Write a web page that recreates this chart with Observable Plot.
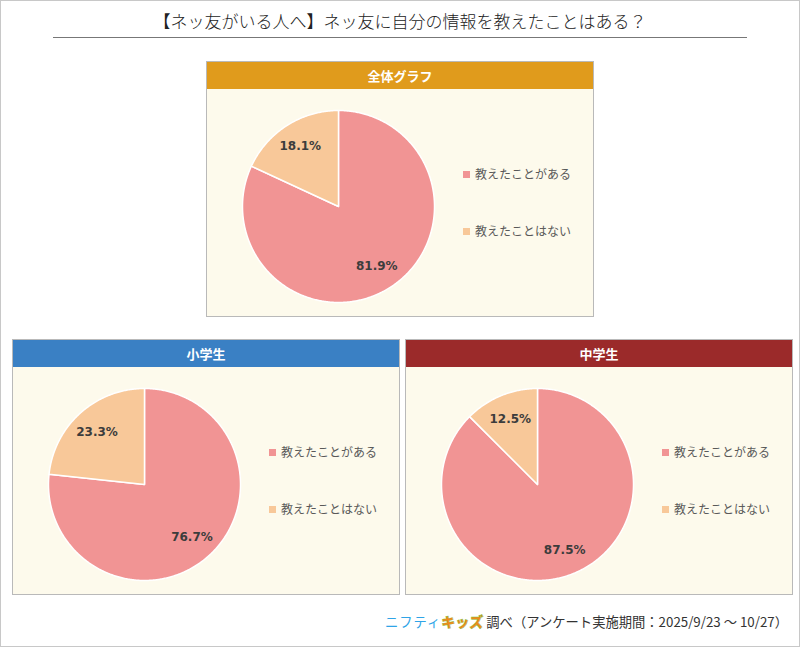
<!DOCTYPE html>
<html><head><meta charset="utf-8">
<script src="https://cdn.jsdelivr.net/npm/d3@7"></script>
<script src="https://cdn.jsdelivr.net/npm/@observablehq/plot@0.6"></script>
<style>
html,body{margin:0;padding:0;background:#fff;}
#page{position:relative;width:798px;height:645px;border:1px solid #c8c8c8;font-family:"Noto Sans CJK JP","Noto Sans",sans-serif;overflow:hidden;}
#title{position:absolute;left:0;top:7px;width:798px;text-align:center;font-size:17px;color:#222;font-weight:300;}
#rule{position:absolute;left:52px;top:36px;width:694px;height:1px;background:#777;}
.panel{position:absolute;border:1px solid #b9b9b9;background:#fdfaec;}
.head{height:27px;line-height:27px;text-align:center;color:#fff;font-weight:bold;font-size:13px;}
.legend{position:absolute;font-size:12px;color:#595959;}
.legend .item{position:absolute;white-space:nowrap;}
.legend .sw{display:inline-block;width:7px;height:7px;margin-right:5px;vertical-align:1px;}
#caption{position:absolute;right:11px;top:610px;font-size:13.3px;color:#333;white-space:nowrap;}
.nf{color:#2fa4e7;font-weight:normal;letter-spacing:1px;}
.kz{color:#f08a1c;font-weight:900;-webkit-text-stroke:0.4px #7cbf3a;margin-right:3px;font-size:14px;}
</style></head>
<body>
<div id="page">
  <div id="title"></div>
  <div id="rule"></div>
  <div id="caption"><span class="nf">ニフティ</span><span class="kz">キッズ</span>調べ（アンケート実施期間：2025/9/23 ～ 10/27）</div>
</div>
<script>
const titleText = "【ネッ友がいる人へ】ネッ友に自分の情報を教えたことはある？";
const categories = ["教えたことがある", "教えたことはない"];
const panelTitles = ["全体グラフ", "小学生", "中学生"];
const valuesAll = [81.9, 18.1];
const valuesElementary = [76.7, 23.3];
const valuesJunior = [87.5, 12.5];

const sliceColors = ["#f19494", "#f8c899"];
const headColors = ["#e09b1c", "#3a80c4", "#9b2a2a"];
const panelBoxes = [
  {left: 205, top: 60},
  {left: 11, top: 338},
  {left: 404, top: 338}
];
const seriesList = [valuesAll, valuesElementary, valuesJunior];

document.getElementById("title").textContent = titleText;
const page = document.getElementById("page");

function piePlot(values) {
  const rows = categories.map((c, i) => ({cat: c, value: values[i]}));
  const arcs = d3.pie().sort(null).value(d => d.value)(rows);
  const pts = [];
  const labels = [];
  for (const a of arcs) {
    const n = Math.max(2, Math.ceil((a.endAngle - a.startAngle) / 0.01));
    pts.push({cat: a.data.cat, x: 0, y: 0});
    for (let k = 0; k <= n; k++) {
      const t = a.startAngle + (a.endAngle - a.startAngle) * k / n;
      pts.push({cat: a.data.cat, x: Math.sin(t), y: Math.cos(t)});
    }
    const m = (a.startAngle + a.endAngle) / 2;
    labels.push({x: 0.74 * Math.sin(m), y: 0.74 * Math.cos(m), text: a.data.value.toFixed(1) + "%"});
  }
  return Plot.plot({
    width: 386, height: 227,
    marginLeft: 35, marginRight: 159, marginTop: 21, marginBottom: 14,
    x: {domain: [-1, 1], axis: null},
    y: {domain: [-1, 1], axis: null},
    color: {domain: categories, range: sliceColors},
    style: {background: "transparent", overflow: "visible"},
    marks: [
      Plot.line(pts, {x: "x", y: "y", z: "cat", fill: "cat", stroke: "#fff", strokeWidth: 1.5, curve: "linear-closed"}),
      Plot.text(labels, {x: "x", y: "y", text: "text", fill: "#3c3c3c", fontWeight: "bold", fontSize: 12, fontFamily: "DejaVu Sans, Verdana, sans-serif"})
    ]
  });
}

panelBoxes.forEach((box, i) => {
  const panel = document.createElement("div");
  panel.className = "panel";
  panel.style.left = box.left + "px";
  panel.style.top = box.top + "px";
  panel.style.width = "386px";
  panel.style.height = "254px";
  const head = document.createElement("div");
  head.className = "head";
  head.style.background = headColors[i];
  head.textContent = panelTitles[i];
  panel.appendChild(head);
  const body = document.createElement("div");
  body.style.position = "relative";
  body.appendChild(piePlot(seriesList[i]));
  const legend = document.createElement("div");
  legend.className = "legend";
  legend.style.left = "256px";
  legend.style.top = "0px";
  categories.forEach((c, j) => {
    const it = document.createElement("div");
    it.className = "item";
    it.style.top = (76 + j * 57) + "px";
    it.style.left = "0px";
    const sw = document.createElement("span");
    sw.className = "sw";
    sw.style.background = sliceColors[j];
    it.appendChild(sw);
    it.appendChild(document.createTextNode(c));
    legend.appendChild(it);
  });
  body.appendChild(legend);
  panel.appendChild(body);
  page.appendChild(panel);
});
</script>
</body></html>
